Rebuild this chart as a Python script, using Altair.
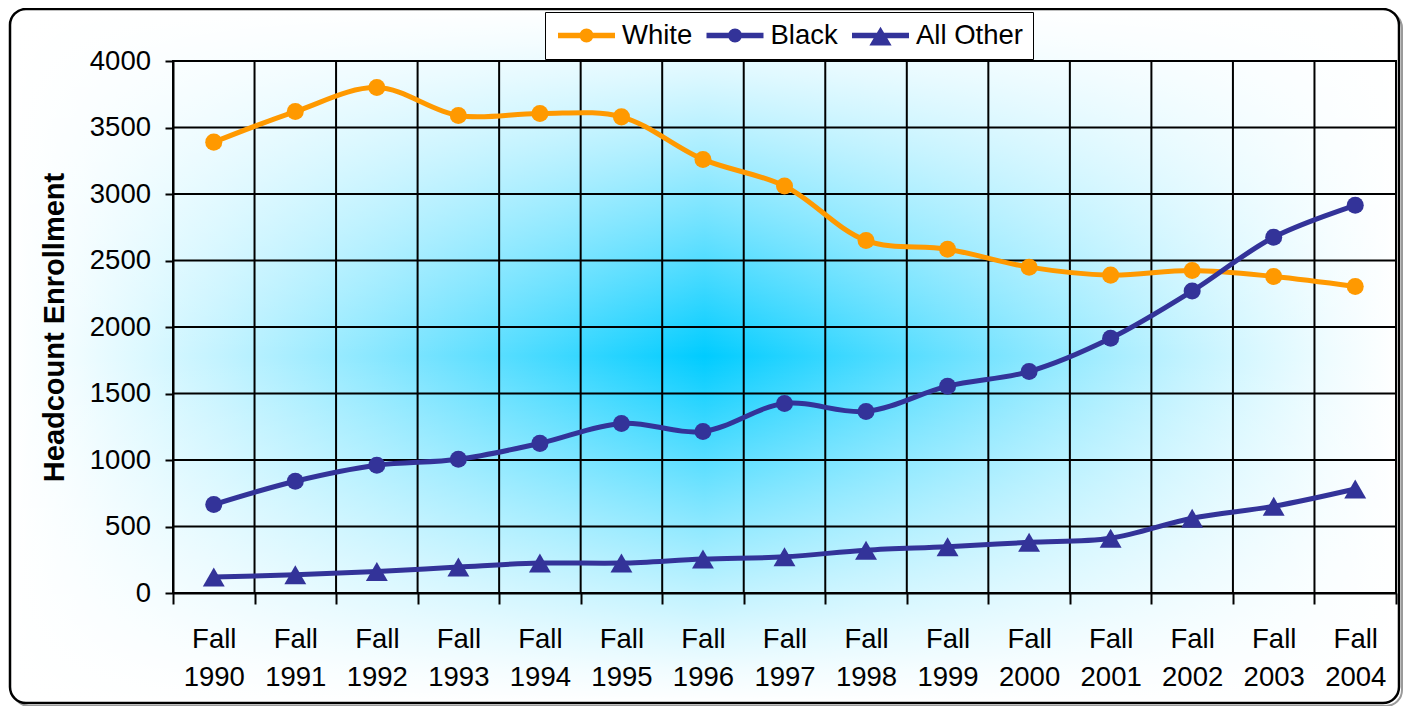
import altair as alt
import pandas as pd

# ---------------- data ----------------
categories = ["Fall 1990", "Fall 1991", "Fall 1992", "Fall 1993", "Fall 1994",
              "Fall 1995", "Fall 1996", "Fall 1997", "Fall 1998", "Fall 1999",
              "Fall 2000", "Fall 2001", "Fall 2002", "Fall 2003", "Fall 2004"]
white = [3390, 3620, 3800, 3590, 3605, 3580, 3260, 3060, 2650, 2585,
         2450, 2390, 2425, 2380, 2305]
black = [665, 840, 960, 1005, 1125, 1275, 1215, 1425, 1365, 1555,
         1665, 1915, 2270, 2675, 2915]
all_other = [120, 137, 162, 195, 225, 225, 255, 272, 322, 348,
             381, 412, 562, 652, 782]
series_names = ["White", "Black", "All Other"]
series_colors = ["#FF9900", "#333399", "#333399"]
y_ticks = [0, 500, 1000, 1500, 2000, 2500, 3000, 3500, 4000]

rows = []
for name, vals in zip(series_names, [white, black, all_other]):
    for c, v in zip(categories, vals):
        rows.append({"category": c, "series": name, "value": v})
df = pd.DataFrame(rows)

# ---------------- layout ----------------
W, H = 1223, 532
FONT = "Liberation Sans"
one = pd.DataFrame({"k": [0]})

x_scale = alt.Scale(type="band", domain=categories, paddingInner=0, paddingOuter=0)
y_scale = alt.Scale(domain=[0, 4000], nice=False)
color_scale = alt.Scale(domain=series_names, range=series_colors)

x_axis = alt.Axis(title=None, tickBand="extent", grid=False,
                  labelExpr="isValid(datum.value) ? split(datum.value, ' ') : ''",
                  labelAngle=0,
                  labelFont=FONT, labelFontSize=27.5, labelLineHeight=38,
                  labelPadding=21, labelColor="black",
                  tickSize=11, tickColor="black", tickWidth=2,
                  domainColor="black", domainWidth=2, zindex=1)
y_axis = alt.Axis(title="Headcount Enrollment", values=y_ticks, format="d",
                  grid=False,
                  labelFont=FONT, labelFontSize=27.5, labelColor="black",
                  labelPadding=14.5, tickSize=8, tickColor="black", tickWidth=2,
                  domainColor="black", domainWidth=2,
                  titleFont=FONT, titleFontSize=29, titleFontWeight="bold",
                  titleColor="black", titleAngle=270, titleX=-110, titleY=H / 2,
                  titleAlign="center", titleBaseline="alphabetic", zindex=1)

# background: "from centre" gradient = horizontal cyan gradient x vertical white veil
CYAN = (0, 204, 255)
EXP = 1.2


def tint(i):
    r, g, b = [round(255 - i * (255 - c)) for c in CYAN]
    return f"rgb({r},{g},{b})"


h_stops = []
v_stops = []
for k in range(21):
    off = k / 20
    t = abs(2 * off - 1)
    h_stops.append({"offset": off, "color": tint((1 - t) ** EXP)})
    v_stops.append({"offset": off,
                    "color": f"rgba(255,255,255,{1 - (1 - t) ** EXP:.3f})"})
h_grad = {"gradient": "linear", "x1": 0, "y1": 0, "x2": 1, "y2": 0, "stops": h_stops}
v_grad = {"gradient": "linear", "x1": 0, "y1": 0, "x2": 0, "y2": 1, "stops": v_stops}

FX1, FX2, FY1, FY2 = -163, 1226, -52, 642

shadow = alt.Chart(one).mark_rect(fill="transparent", stroke="#9a9a9a",
                                  strokeWidth=2, cornerRadius=16).encode(
    x=alt.value(FX1 + 3), x2=alt.value(FX2 + 3), y=alt.value(FY1 + 3), y2=alt.value(FY2 + 3))

frame_fill = alt.Chart(one).mark_rect(fill=h_grad, cornerRadius=16).encode(
    x=alt.value(FX1), x2=alt.value(FX2), y=alt.value(FY1), y2=alt.value(FY2))

frame = alt.Chart(one).mark_rect(fill=v_grad, stroke="black",
                                 strokeWidth=2.5, cornerRadius=16).encode(
    x=alt.value(FX1), x2=alt.value(FX2), y=alt.value(FY1), y2=alt.value(FY2))

hgrid = alt.Chart(pd.DataFrame({"value": y_ticks[1:]})).mark_rule(
    color="black", strokeWidth=2).encode(
    y=alt.Y("value:Q", scale=y_scale, axis=y_axis),
    x=alt.value(0), x2=alt.value(W))

vgrid = alt.Chart(pd.DataFrame({"category": categories})).mark_rule(
    color="black", strokeWidth=2).encode(
    x=alt.X("category:N", scale=x_scale, axis=x_axis, bandPosition=0),
    y=alt.value(0), y2=alt.value(H))

border = alt.Chart(one).mark_rect(fill="transparent", stroke="black",
                                  strokeWidth=2).encode(
    x=alt.value(0), x2=alt.value(W), y=alt.value(0), y2=alt.value(H))

X = alt.X("category:N", scale=x_scale, axis=x_axis)
Y = alt.Y("value:Q", scale=y_scale, axis=y_axis)

lines = alt.Chart(df).mark_line(interpolate="catmull-rom", strokeWidth=5).encode(
    x=X, y=Y,
    color=alt.Color("series:N", scale=color_scale, legend=None),
    detail="series:N")

circles = alt.Chart(df).transform_filter("datum.series != 'All Other'").mark_point(
    filled=True, opacity=1, size=290, shape="circle").encode(
    x=X, y=Y, color=alt.Color("series:N", scale=color_scale, legend=None))

triangles = alt.Chart(df).transform_filter("datum.series == 'All Other'").mark_point(
    filled=True, opacity=1, size=480, shape="triangle-up").encode(
    x=X, y=Y, color=alt.Color("series:N", scale=color_scale, legend=None))

circle_sym = "M-1,0L1,0M0.15,0A0.15,0.15 0 1 1 -0.15,0A0.15,0.15 0 1 1 0.15,0Z"
tri_sym = "M-1,0L1,0M-0.22,0.25L0,-0.12L0.22,0.25Z"
legend_paths = [circle_sym, circle_sym, tri_sym]

leg = dict(title=None, orient="none", legendX=372, legendY=-49,
           direction="horizontal", columns=3, clipHeight=27,
           symbolSize=3249, symbolStrokeWidth=5.5, symbolOpacity=1,
           labelFont=FONT, labelFontSize=27.5, labelColor="black",
           labelOffset=4, columnPadding=10.5, padding=10,
           fillColor="white", strokeColor="black")

legend_layer = alt.Chart(df).transform_filter("datum.value < 0").mark_point(
    filled=True, opacity=1, strokeWidth=5.5).encode(
    x=X, y=Y,
    color=alt.Color("series:N", scale=color_scale, legend=alt.Legend(**leg)),
    stroke=alt.Stroke("series:N", scale=color_scale, legend=alt.Legend(**leg)),
    shape=alt.Shape("series:N", scale=alt.Scale(domain=series_names, range=legend_paths),
                    legend=alt.Legend(**leg)))

chart = alt.layer(
    shadow, frame_fill, frame, hgrid, vgrid, border, lines, circles, triangles,
    legend_layer
).resolve_scale(
    color="independent", shape="independent", stroke="independent"
).properties(
    width=W, height=H,
    padding={"left": 165, "top": 53, "right": 7, "bottom": 113},
    autosize=alt.AutoSizeParams(type="none"),
).configure_view(
    strokeOpacity=0
).configure_legend(
    strokeWidth=2
).configure(
    font=FONT
)

chart.save("out.html", embed_options={"renderer": "svg", "actions": False})
